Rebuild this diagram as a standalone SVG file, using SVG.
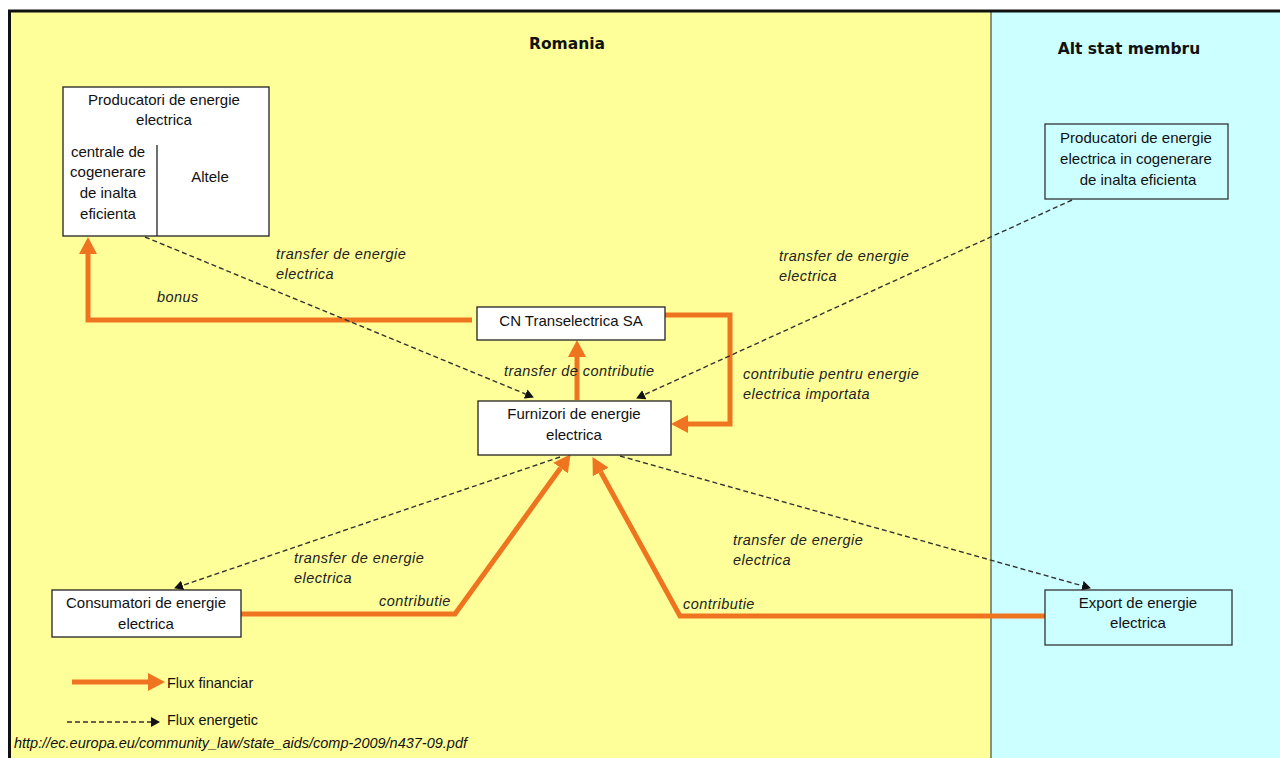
<svg xmlns="http://www.w3.org/2000/svg" width="1280" height="758" viewBox="0 0 1280 758">
<defs>
<style>
.box{fill:#fff;stroke:#222;stroke-width:1.3}
.boxc{fill:#ccffff;stroke:#333;stroke-width:1.3}
.t{font-family:"Liberation Sans",Arial,sans-serif;font-size:15px;fill:#111;text-anchor:middle}
.i{font-family:"Liberation Sans",Arial,sans-serif;font-size:14.5px;fill:#222;font-style:italic;letter-spacing:0.45px}
.l{font-family:"Liberation Sans",Arial,sans-serif;font-size:14.5px;fill:#111}
.u{font-family:"Liberation Sans",Arial,sans-serif;font-size:14.5px;fill:#111;font-style:italic}
.h{font-family:"DejaVu Sans",Verdana,sans-serif;font-size:15.5px;font-weight:bold;fill:#111;text-anchor:middle}
.fin{fill:none;stroke:#ef7420;stroke-width:5}
.en{fill:none;stroke:#333;stroke-width:1.4;stroke-dasharray:5 3}
</style>
<marker id="ao" markerUnits="userSpaceOnUse" markerWidth="17" markerHeight="18" refX="0" refY="9" orient="auto">
<path d="M0,0 L17,9 L0,18 z" fill="#ef7420"/>
</marker>
<marker id="ad" markerUnits="userSpaceOnUse" markerWidth="9" markerHeight="10" refX="0" refY="5" orient="auto">
<path d="M0,0 L9,5 L0,10 z" fill="#111"/>
</marker>
</defs>
<rect x="0" y="0" width="1280" height="758" fill="#fff"/>
<rect x="10" y="11" width="981" height="747" fill="#ffff99"/>
<rect x="991" y="11" width="289" height="747" fill="#ccffff"/>
<line x1="991" y1="11" x2="991" y2="758" stroke="#555" stroke-width="1.3"/>
<line x1="8" y1="11" x2="1280" y2="11" stroke="#111" stroke-width="3"/>
<line x1="9.5" y1="10" x2="9.5" y2="758" stroke="#111" stroke-width="3"/>
<text class="h" x="567" y="49">Romania</text>
<text class="h" x="1129" y="54">Alt stat membru</text>

<g id="connectors">
<path class="fin" d="M472,320 H88 V254" marker-end="url(#ao)"/>
<path class="fin" d="M577,400 V357" marker-end="url(#ao)"/>
<path class="fin" d="M665,315 H730 V424 H688" marker-end="url(#ao)"/>
<path class="fin" d="M241,614 H455 L560.6,468" marker-end="url(#ao)"/>
<path class="fin" d="M1045,616 H680 L600.7,472" marker-end="url(#ao)"/>
<path class="en" d="M145,237 L525.6,394" marker-end="url(#ad)"/>
<path class="en" d="M1072,200 L644.3,394.7" marker-end="url(#ad)"/>
<path class="en" d="M560,457 L182.6,585.4" marker-end="url(#ad)"/>
<path class="en" d="M620,456 L1082.3,585.8" marker-end="url(#ad)"/>
<text class="i" x="276" y="259">transfer de energie</text>
<text class="i" x="276" y="279">electrica</text>
<text class="i" x="157" y="302">bonus</text>
<text class="i" x="779" y="261">transfer de energie</text>
<text class="i" x="779" y="281">electrica</text>
<text class="i" x="504" y="376">transfer de contributie</text>
<text class="i" x="743" y="379">contributie pentru energie</text>
<text class="i" x="743" y="399">electrica importata</text>
<text class="i" x="294" y="563">transfer de energie</text>
<text class="i" x="294" y="583">electrica</text>
<text class="i" x="379" y="606">contributie</text>
<text class="i" x="733" y="545">transfer de energie</text>
<text class="i" x="733" y="565">electrica</text>
<text class="i" x="683" y="609">contributie</text>
</g>

<g id="producatori-ro">
<rect class="box" x="63" y="87" width="206" height="149"/>
<line x1="157" y1="145" x2="157" y2="236" stroke="#222" stroke-width="1.3"/>
<text class="t" x="164" y="105">Producatori de energie</text>
<text class="t" x="164" y="125">electrica</text>
<text class="t" x="108" y="157">centrale de</text>
<text class="t" x="108" y="177">cogenerare</text>
<text class="t" x="108" y="198">de inalta</text>
<text class="t" x="108" y="219">eficienta</text>
<text class="t" x="210" y="182">Altele</text>
</g>
<g id="producatori-alt">
<rect class="boxc" x="1045" y="124" width="183" height="75"/>
<text class="t" x="1136" y="143">Producatori de energie</text>
<text class="t" x="1136" y="164">electrica in cogenerare</text>
<text class="t" x="1138" y="185">de inalta eficienta</text>
</g>
<g id="transelectrica">
<rect class="box" x="477" y="307" width="188" height="33"/>
<text class="t" x="571" y="326">CN Transelectrica SA</text>
</g>
<g id="furnizori">
<rect class="box" x="478" y="401" width="193" height="54"/>
<text class="t" x="574" y="419">Furnizori de energie</text>
<text class="t" x="574" y="440">electrica</text>
</g>
<g id="consumatori">
<rect class="box" x="52" y="590" width="189" height="47"/>
<text class="t" x="146" y="608">Consumatori de energie</text>
<text class="t" x="146" y="629">electrica</text>
</g>
<g id="export">
<rect class="boxc" x="1045" y="590" width="187" height="55"/>
<text class="t" x="1138" y="608">Export de energie</text>
<text class="t" x="1138" y="628">electrica</text>
</g>
<g id="legend">
<path class="fin" d="M72,682 H148" marker-end="url(#ao)"/>
<text class="l" x="167" y="688">Flux financiar</text>
<path class="en" d="M67,722 H151" marker-end="url(#ad)"/>
<text class="l" x="167" y="725">Flux energetic</text>
<text class="u" x="14" y="748">http://ec.europa.eu/community_law/state_aids/comp-2009/n437-09.pdf</text>
</g>
</svg>
